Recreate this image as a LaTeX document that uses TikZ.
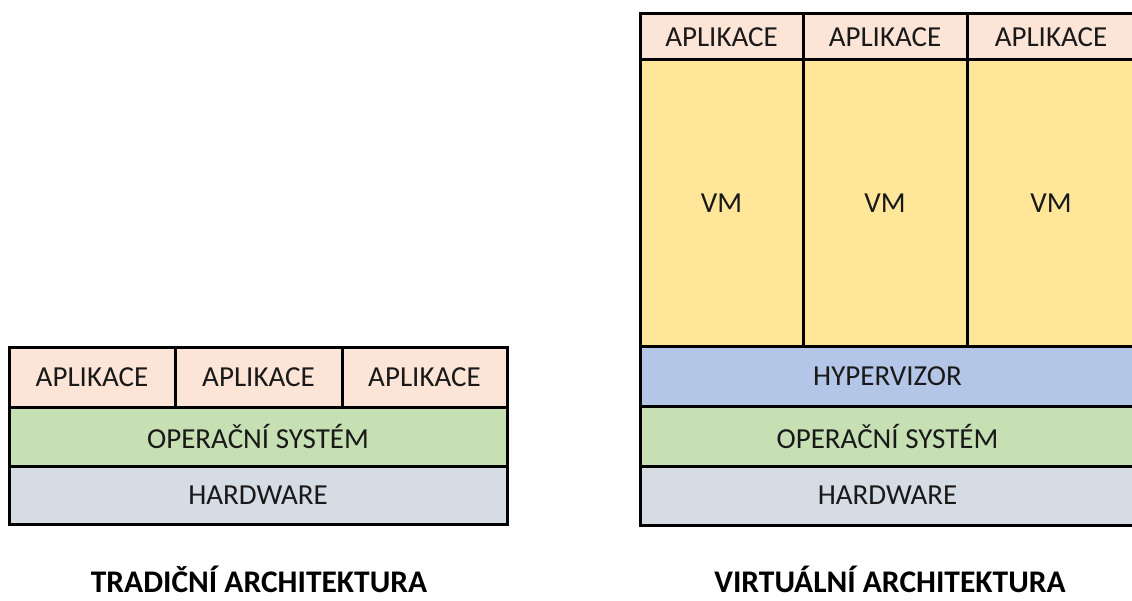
\documentclass[tikz,border=0pt]{standalone}
\usepackage{fontspec}
\setmainfont{Carlito}
\definecolor{appfill}{HTML}{FCE4D6}
\definecolor{osfill}{HTML}{C6E0B4}
\definecolor{hwfill}{HTML}{D6DCE4}
\definecolor{vmfill}{HTML}{FFE699}
\definecolor{hypfill}{HTML}{B4C6E7}
\tikzset{
  cell/.style={draw=black, line width=3pt, inner sep=0pt, outer sep=0pt,
    anchor=north west, font=\fontsize{29}{33}\selectfont, text=black!90},
  caption/.style={anchor=base, inner sep=0pt, font=\bfseries\fontsize{31.5}{36}\selectfont, text=black}
}
\begin{document}
\begin{tikzpicture}[x=1pt, y=-1pt]
\useasboundingbox (0,0) rectangle (1132,601);
\clip (0,0) rectangle (1132,601);
% traditional stack
\node[cell, fill=appfill, minimum width=166pt, minimum height=59pt] (ta1) at (9,348) {APLIKACE};
\node[cell, fill=appfill, minimum width=167pt, minimum height=59pt] (ta2) at (175,348) {APLIKACE};
\node[cell, fill=appfill, minimum width=165pt, minimum height=59pt] (ta3) at (342,348) {APLIKACE};
\node[cell, fill=osfill, minimum width=498pt, minimum height=59pt] (tos) at (9,407) {OPERAČNÍ SYSTÉM};
\node[cell, fill=hwfill, minimum width=498pt, minimum height=58pt] (thw) at (9,466) {HARDWARE};
% virtualised stack (runs past the right edge)
\node[cell, fill=appfill, minimum width=163pt, minimum height=46pt] (va1) at (640,14) {APLIKACE};
\node[cell, fill=appfill, minimum width=164pt, minimum height=46pt] (va2) at (803,14) {APLIKACE};
\node[cell, fill=appfill, minimum width=168pt, minimum height=46pt] (va3) at (967,14) {APLIKACE};
\node[cell, fill=vmfill, minimum width=163pt, minimum height=287pt] (vm1) at (640,60) {VM};
\node[cell, fill=vmfill, minimum width=164pt, minimum height=287pt] (vm2) at (803,60) {VM};
\node[cell, fill=vmfill, minimum width=168pt, minimum height=287pt] (vm3) at (967,60) {VM};
\node[cell, fill=hypfill, minimum width=495pt, minimum height=59pt] (hyp) at (640,347) {HYPERVIZOR};
\node[cell, fill=osfill, minimum width=495pt, minimum height=60pt] (vos) at (640,406) {OPERAČNÍ SYSTÉM};
\node[cell, fill=hwfill, minimum width=495pt, minimum height=59pt] (vhw) at (640,466) {HARDWARE};
% captions
\node[caption] (tcap) at (259,592) {TRADIČNÍ ARCHITEKTURA};
\node[caption] (vcap) at (890,592) {VIRTUÁLNÍ ARCHITEKTURA};
\end{tikzpicture}
\end{document}
